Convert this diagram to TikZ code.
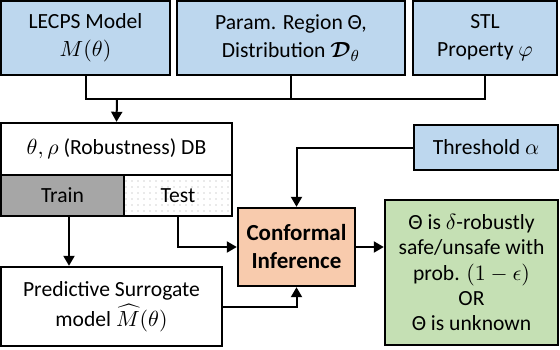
\documentclass[tikz,border=0pt]{standalone}
\usepackage{amsmath}
\usepackage{amssymb}
\usepackage{fontspec}
\setmainfont{Carlito}
\usetikzlibrary{positioning}
\usetikzlibrary{calc}
\usetikzlibrary{arrows.meta}
\usetikzlibrary{patterns.meta}
\definecolor{boxblue}{HTML}{BDD7EE}
\definecolor{boxorange}{HTML}{F8CBAD}
\definecolor{boxgreen}{HTML}{C5E0B4}
\definecolor{boxgray}{HTML}{A6A6A6}
\tikzstyle{block} = [rectangle, draw=black, line width=1.2pt, text centered, align=center, inner sep=0pt, font=\fontsize{10.8}{14}\selectfont]
\tikzstyle{arrow} = [line width=1pt, -{Triangle[length=5pt,width=5.5pt]}]
\tikzstyle{link} = [line width=1pt]

\begin{document}
\begin{tikzpicture}[x=0.5pt, y=-0.5pt]
\useasboundingbox (0,0) rectangle (560,349);
\node (lecps) [block, fill=boxblue, minimum width=84.5pt, minimum height=37pt] at (85.5,38) {LECPS Model\\$M(\theta)$};
\node (param) [block, fill=boxblue, minimum width=114pt, minimum height=37pt] at (291,38) {Param. Region Θ,\\Distribution $\boldsymbol{\mathcal{D}}_\theta$};
\node (stl) [block, fill=boxblue, minimum width=72pt, minimum height=37pt] at (485,38) {STL\\Property $\varphi$};
\node (db) [block, fill=white, minimum width=115.5pt, minimum height=26pt] at (116.5,149) {$\theta,\rho$ (Robustness) DB};
\node (train) [block, fill=boxgray, minimum width=61.5pt, minimum height=20.5pt] at (62.5,195.5) {Train};
\node (test) [block, pattern={Dots[radius=0.3pt, distance=3pt]}, pattern color=gray!70, minimum width=54pt, minimum height=20.5pt] at (178,195.5) {Test};
\node (conf) [block, fill=boxorange, minimum width=58.5pt, minimum height=39pt, font=\fontsize{11.5}{14}\selectfont\bfseries] at (296.5,247) {Conformal\\Inference};
\node (thr) [block, fill=boxblue, minimum width=72pt, minimum height=22.5pt] at (486,147.5) {Threshold $\alpha$};
\node (result) [block, fill=boxgreen, minimum width=86.5pt, minimum height=72.5pt, font=\fontsize{10.8}{12.6}\selectfont] at (471.5,272.5) {Θ is $\delta$-robustly\\safe/unsafe with\\prob. $(1-\epsilon)$\\OR\\Θ is unknown};
\node (pred) [block, fill=white, minimum width=110.5pt, minimum height=39.5pt] at (111.5,306.5) {Predictive Surrogate\\[1pt]model $\widehat{M}(\theta)$};
\coordinate (join) at (117,99);
\draw [link] (lecps.south) |- (join);
\draw [link] (join) -| (param.south);
\draw [link] (join) -| (stl.south);
\draw [arrow] (join) -- (db.north);
\draw [arrow] ([xshift=3.25pt]train.south) -- ([xshift=3.25pt]train.south |- pred.north);
\draw [arrow] (test.south) |- (conf.west);
\draw [arrow] (thr.west) -| (conf.north);
\draw [arrow] (pred.east) -| (conf.south);
\draw [arrow] (conf.east) -- (conf.east -| result.west);
\end{tikzpicture}
\end{document}
